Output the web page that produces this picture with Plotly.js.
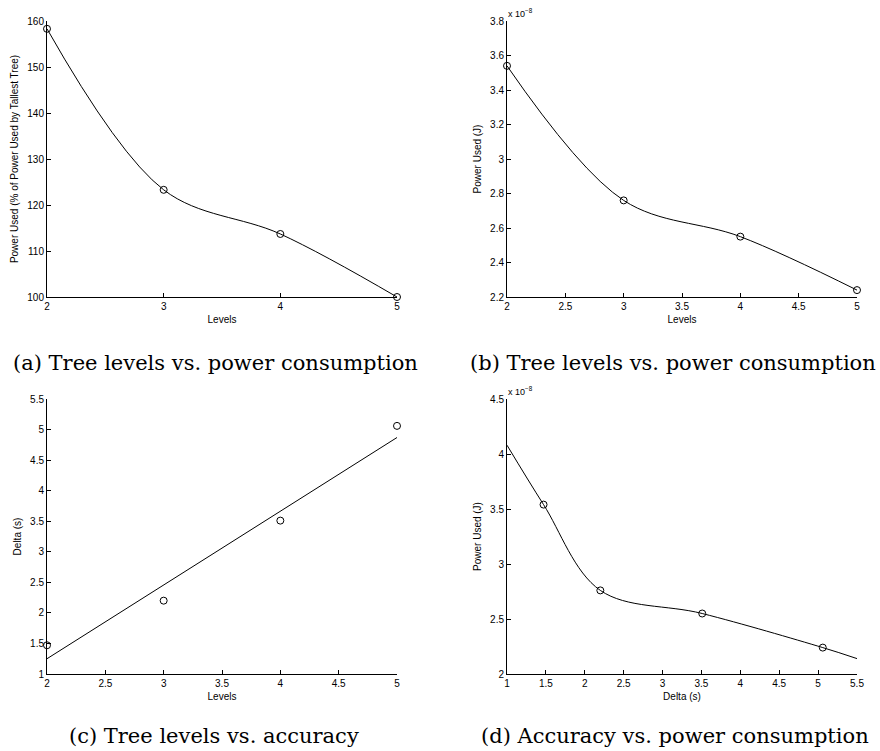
<!DOCTYPE html>
<html>
<head>
<meta charset="utf-8">
<script src="https://cdn.plot.ly/plotly-3.0.1.min.js"></script>
<style>html,body{margin:0;padding:0;background:#fff;}#chart{width:880px;height:751px;}</style>
</head>
<body>
<div id="chart"></div>
<script>
// (a) Tree levels vs. power consumption (% of tallest tree)
const levels = [2, 3, 4, 5];
const powerPct = [158.3, 123.3, 113.7, 100.0];

// (b) Tree levels vs. power consumption (J, in units of 1e-8)
const powerJ = [3.54, 2.76, 2.55, 2.24];

// (c) Tree levels vs. accuracy (Delta, s) with least-squares fit line
const deltaS = [1.47, 2.20, 3.51, 5.06];
const fitX = [2, 5];
const fitY = [1.25, 4.87];

// (d) Accuracy vs. power consumption; curve extends to axis ends
const curveDX = [1.0, 1.47, 2.20, 3.51, 5.06, 5.5];
const curveDY = [4.08, 3.54, 2.76, 2.55, 2.24, 2.14];

// tick values
const ticksA_x = [2, 3, 4, 5];
const ticksA_y = [100, 110, 120, 130, 140, 150, 160];
const ticksB_x = [2, 2.5, 3, 3.5, 4, 4.5, 5];
const ticksB_y = [2.2, 2.4, 2.6, 2.8, 3, 3.2, 3.4, 3.6, 3.8];
const ticksC_y = [1, 1.5, 2, 2.5, 3, 3.5, 4, 4.5, 5, 5.5];
const ticksD_x = [1, 1.5, 2, 2.5, 3, 3.5, 4, 4.5, 5, 5.5];
const ticksD_y = [2, 2.5, 3, 3.5, 4, 4.5];

const captions = [
  "(a) Tree levels vs. power consumption",
  "(b) Tree levels vs. power consumption",
  "(c) Tree levels vs. accuracy",
  "(d) Accuracy vs. power consumption"
];
const exponentLabel = "x 10<sup>−8</sup>";

const W = 880, H = 751;
const sans = "Liberation Sans, Arial, Helvetica, sans-serif";
const serif = "DejaVu Serif, Liberation Serif, serif";

function px(x) { return x / W; }
function py(y) { return 1 - y / H; }

const lineStyle = {color: "black", width: 1};
const markerStyle = {symbol: "circle-open", size: 7, color: "black", line: {color: "black", width: 1}};

const traces = [
  {x: levels, y: powerPct, mode: "lines", line: Object.assign({shape: "spline", smoothing: 1}, lineStyle), xaxis: "x", yaxis: "y", cliponaxis: false},
  {x: levels, y: powerPct, mode: "markers", marker: markerStyle, xaxis: "x", yaxis: "y", cliponaxis: false},
  {x: levels, y: powerJ, mode: "lines", line: Object.assign({shape: "spline", smoothing: 1}, lineStyle), xaxis: "x2", yaxis: "y2", cliponaxis: false},
  {x: levels, y: powerJ, mode: "markers", marker: markerStyle, xaxis: "x2", yaxis: "y2", cliponaxis: false},
  {x: fitX, y: fitY, mode: "lines", line: lineStyle, xaxis: "x3", yaxis: "y3", cliponaxis: false},
  {x: levels, y: deltaS, mode: "markers", marker: markerStyle, xaxis: "x3", yaxis: "y3", cliponaxis: false},
  {x: curveDX, y: curveDY, mode: "lines", line: Object.assign({shape: "spline", smoothing: 1}, lineStyle), xaxis: "x4", yaxis: "y4", cliponaxis: false},
  {x: deltaS, y: powerJ, mode: "markers", marker: markerStyle, xaxis: "x4", yaxis: "y4", cliponaxis: false}
];

function xax(domain, anchor, range, ticks, title) {
  return {
    domain: domain, anchor: anchor, range: range, tickmode: "array", tickvals: ticks,
    ticks: "inside", ticklen: 4, tickcolor: "black", tickwidth: 1,
    showline: true, linecolor: "black", linewidth: 1, mirror: false,
    showgrid: false, zeroline: false, fixedrange: true,
    tickfont: {family: sans, size: 10, color: "black"},
    title: {text: title, font: {family: sans, size: 10, color: "black"}, standoff: 4}
  };
}
function yax(domain, anchor, range, ticks, title) {
  return {
    domain: domain, anchor: anchor, range: range, tickmode: "array", tickvals: ticks,
    ticks: "inside", ticklen: 4, tickcolor: "black", tickwidth: 1,
    showline: true, linecolor: "black", linewidth: 1, mirror: false,
    showgrid: false, zeroline: false, fixedrange: true,
    tickfont: {family: sans, size: 10, color: "black"},
    title: {text: title, font: {family: sans, size: 10, color: "black"}, standoff: 6}
  };
}

const leftX = [px(47), px(397)];
const rightX = [px(507), px(857)];
const topY = [py(297), py(21)];
const botY = [py(674), py(399)];

const capFont = {family: serif, size: 21, color: "black"};

const layout = {
  width: W, height: H, autosize: false,
  margin: {l: 0, r: 0, t: 0, b: 0},
  paper_bgcolor: "white", plot_bgcolor: "white",
  showlegend: false,
  xaxis: xax(leftX, "y", [2, 5], ticksA_x, "Levels"),
  yaxis: yax(topY, "x", [100, 160], ticksA_y, "Power Used (% of Power Used by Tallest Tree)"),
  xaxis2: xax(rightX, "y2", [2, 5], ticksB_x, "Levels"),
  yaxis2: yax(topY, "x2", [2.2, 3.8], ticksB_y, "Power Used (J)"),
  xaxis3: xax(leftX, "y3", [2, 5], ticksB_x, "Levels"),
  yaxis3: yax(botY, "x3", [1, 5.5], ticksC_y, "Delta (s)"),
  xaxis4: xax(rightX, "y4", [1, 5.5], ticksD_x, "Delta (s)"),
  yaxis4: yax(botY, "x4", [2, 4.5], ticksD_y, "Power Used (J)"),
  annotations: [
    {text: captions[0], x: px(215), y: py(363), xref: "paper", yref: "paper", showarrow: false, xanchor: "center", yanchor: "middle", font: capFont},
    {text: captions[1], x: px(673), y: py(363), xref: "paper", yref: "paper", showarrow: false, xanchor: "center", yanchor: "middle", font: capFont},
    {text: captions[2], x: px(214), y: py(736), xref: "paper", yref: "paper", showarrow: false, xanchor: "center", yanchor: "middle", font: capFont},
    {text: captions[3], x: px(675), y: py(736), xref: "paper", yref: "paper", showarrow: false, xanchor: "center", yanchor: "middle", font: capFont},
    {text: exponentLabel, x: px(506), y: py(13), xref: "paper", yref: "paper", showarrow: false, xanchor: "left", yanchor: "middle", font: {family: sans, size: 9, color: "black"}},
    {text: exponentLabel, x: px(506), y: py(391), xref: "paper", yref: "paper", showarrow: false, xanchor: "left", yanchor: "middle", font: {family: sans, size: 9, color: "black"}}
  ]
};

Plotly.newPlot("chart", traces, layout, {displayModeBar: false, staticPlot: true});
</script>
</body>
</html>
